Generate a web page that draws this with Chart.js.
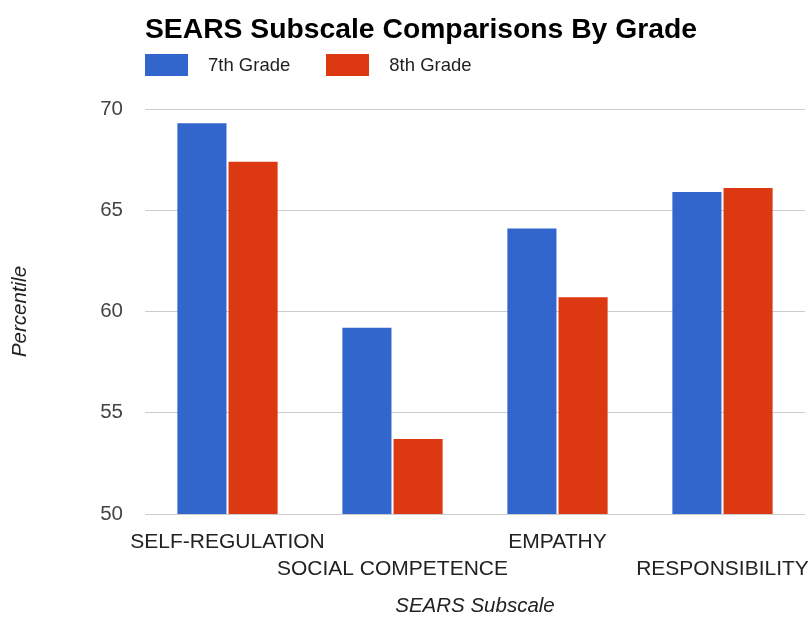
<!DOCTYPE html>
<html>
<head>
<meta charset="utf-8">
<script src="https://cdn.jsdelivr.net/npm/chart.js@4.4.1/dist/chart.umd.min.js"></script>
<style>
  html, body { margin: 0; padding: 0; background: #fff; }
  #wrap { position: relative; width: 812px; height: 617px; font-family: "Liberation Sans", Arial, sans-serif; }
  #title { position: absolute; left: 145px; top: 14px; font-size: 28.3px; line-height: 28px; font-weight: bold; color: #000; white-space: nowrap; }
  #legend { position: absolute; left: 145px; top: 54px; display: flex; }
  .item { display: flex; align-items: center; margin-right: 36px; font-size: 18.5px; color: #222; }
  .swatch { width: 43px; height: 22px; margin-right: 20px; }
  canvas { position: absolute; left: 0; top: 0; }
</style>
</head>
<body>
<div id="wrap">
  <canvas id="chart" width="812" height="617"></canvas>
  <div id="title">SEARS Subscale Comparisons By Grade</div>
  <div id="legend"></div>
</div>
<script>
// subscales, drawn on alternating rows under the axis
const subscales = ['SELF-REGULATION', 'SOCIAL COMPETENCE', 'EMPATHY', 'RESPONSIBILITY'];
const grade7 = [69.3, 59.2, 64.1, 65.9];
const grade8 = [67.4, 53.7, 60.7, 66.1];
const seriesNames = ['7th Grade', '8th Grade'];
const seriesColors = ['#3366cc', '#dc3912'];
const yTicks = [50, 55, 60, 65, 70];

const labels = subscales.map((s, i) => i % 2 === 0 ? [s, ''] : ['', s]);

const legend = document.getElementById('legend');
seriesNames.forEach((name, i) => {
  const item = document.createElement('div');
  item.className = 'item';
  item.innerHTML = '<span class="swatch" style="background:' + seriesColors[i] + '"></span>' + name;
  legend.appendChild(item);
});

const font = { family: '"Liberation Sans", Arial, sans-serif' };

new Chart(document.getElementById('chart').getContext('2d'), {
  type: 'bar',
  data: {
    labels: labels,
    datasets: [
      { label: seriesNames[0], data: grade7, backgroundColor: seriesColors[0] },
      { label: seriesNames[1], data: grade8, backgroundColor: seriesColors[1] }
    ]
  },
  options: {
    responsive: false,
    animation: false,
    layout: { padding: { top: 109, left: 4, right: 0, bottom: 0 } },
    datasets: { bar: { categoryPercentage: 0.62, barPercentage: 0.96 } },
    plugins: { legend: { display: false }, tooltip: { enabled: false } },
    scales: {
      x: {
        afterFit: (axis) => { axis.height = 103; axis.paddingRight = 7; axis.paddingLeft = 0; },
        grid: { display: false, drawTicks: false },
        border: { display: false },
        ticks: {
          maxRotation: 0, autoSkip: false, padding: 15, color: '#222',
          font: { ...font, size: 21, lineHeight: 1.29 }
        },
        title: {
          display: true, text: 'SEARS Subscale', color: '#222',
          padding: { top: 0, bottom: 0 },
          font: { ...font, size: 20.5, style: 'italic', lineHeight: 1 }
        }
      },
      y: {
        min: 50, max: 70,
        afterBuildTicks: (axis) => { axis.ticks = yTicks.map(v => ({ value: v })); },
        afterFit: (axis) => { axis.width = 141; },
        grid: { color: '#cccccc', drawTicks: false },
        border: { display: false },
        ticks: { padding: 22, color: '#444', font: { ...font, size: 20.5 } },
        title: {
          display: true, text: 'Percentile', color: '#222',
          padding: { top: 4, bottom: 0 },
          font: { ...font, size: 20.5, style: 'italic' }
        }
      }
    }
  }
});
</script>
</body>
</html>
